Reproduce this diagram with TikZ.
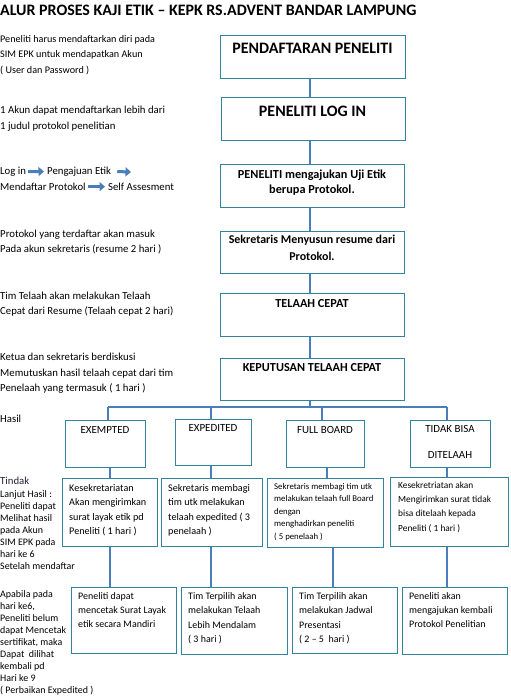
\documentclass[tikz,border=0pt]{standalone}
\usepackage{fontspec}
\setmainfont{Carlito}
\usetikzlibrary{arrows.meta}
\definecolor{boxc}{HTML}{31849B}
\definecolor{linec}{HTML}{4A7EBB}
\definecolor{purp}{HTML}{2E1F3A}
\newcommand\tstrut{\rule{0pt}{0.8em}}
% left-aligned paragraph: name, x, mid-y of first line, size, leading, text
\newcommand\para[6]{\node[anchor=north west, inner sep=0pt, align=left, font=\fontsize{#4}{#5}\selectfont, yshift={#4*0.567pt}] (#1) at (#2,#3) {\tstrut #6};}
% centered text: name, x, mid-y, size, leading, font cmd, text
\newcommand\ctext[7]{\node[anchor=north, inner sep=0pt, align=center, font=#6\fontsize{#4}{#5}\selectfont, yshift={#4*0.567pt}] (#1) at (#2,#3) {\tstrut #7};}
% box: name, x, y (top-left), width, height
\newcommand\bx[5]{\node[box, minimum width=#4bp, minimum height=#5bp] (#1) at (#2,#3) {};}
\begin{document}
\begin{tikzpicture}[x=1bp,y=-1bp,
  box/.style={draw=boxc, line width=1.3bp, inner sep=0pt, anchor=north west},
  conn/.style={draw=linec, line width=1.2bp},
  txt/.style={anchor=mid west, inner sep=0pt, font=\fontsize{10.8}{12}\selectfont},
  blockarrow/.style={draw=linec, line width=3bp, -{Triangle[length=5.5bp,width=9bp]}}]
\useasboundingbox (0,0) rectangle (511,697);

% title
\node[anchor=base west, inner sep=0pt, font=\bfseries\fontsize{16}{18}\selectfont] (title) at (0,15.5) {ALUR PROSES KAJI ETIK – KEPK RS.ADVENT BANDAR LAMPUNG};

% main boxes
\bx{b1}{220}{35}{185}{43}
\bx{b2}{221}{97}{184}{43}
\bx{b3}{220}{164}{184}{43}
\bx{b4}{220}{231}{184}{42}
\bx{b5}{220}{293}{184}{43}
\bx{b6}{220}{358}{184}{42}
\ctext{t1}{312.5}{50}{16}{18}{\bfseries}{PENDAFTARAN PENELITI}
\ctext{t2}{312.5}{113}{16}{18}{\bfseries}{PENELITI LOG IN}
\ctext{t3}{312}{175}{12.3}{16}{\bfseries}{PENELITI mengajukan Uji Etik\\berupa Protokol.}
\ctext{t4}{312}{241}{12}{17}{\bfseries}{Sekretaris Menyusun resume dari\\Protokol.}
\ctext{t5}{312}{304.5}{12.3}{14}{\bfseries}{TELAAH CEPAT}
\ctext{t6}{312}{368.5}{12.3}{14}{\bfseries}{KEPUTUSAN TELAAH CEPAT}

% result boxes
\bx{c1}{65}{420}{80}{47}
\bx{c2}{175}{419}{76}{46}
\bx{c3}{286}{420}{78}{47}
\bx{c4}{410}{420}{80}{47}
\ctext{tc1}{105}{431}{11}{13}{}{EXEMPTED}
\ctext{tc2}{213}{429}{11}{13}{}{EXPEDITED}
\ctext{tc3}{325}{431}{11}{13}{}{FULL BOARD}
\ctext{tc4}{450}{430}{11}{26}{}{TIDAK BISA\\DITELAAH}

% second row
\bx{r1}{62}{478}{95}{68}
\bx{r2}{161}{478}{101}{68}
\bx{r3}{267}{478}{116}{69}
\bx{r4}{390}{477}{118}{69}
\para{tr1}{69}{489}{10.2}{14.3}{Kesekretariatan\\Akan mengirimkan\\surat layak etik pd\\Peneliti ( 1 hari )}
\para{tr2}{168}{489}{10.2}{14.3}{Sekretaris membagi\\tim utk melakukan\\telaah expedited ( 3\\penelaah )}
\para{tr3}{274}{487}{8.8}{12.5}{Sekretaris membagi tim utk\\melakukan telaah full Board\\dengan\\menghadirkan peneliti\\( 5 penelaah )}
\para{tr4}{398}{486}{9.4}{14.3}{Kesekretriatan akan\\Mengirimkan surat tidak\\bisa ditelaah kepada\\Peneliti ( 1 hari )}

% third row
\bx{s1}{71}{587}{105}{66}
\bx{s2}{181}{587}{106}{67}
\bx{s3}{292}{587}{105}{66}
\bx{s4}{402}{587}{105}{67}
\para{ts1}{78}{597}{10}{14}{Peneliti dapat\\mencetak Surat Layak\\etik secara Mandiri}
\para{ts2}{188}{597}{10}{14.5}{Tim Terpilih akan\\melakukan Telaah\\Lebih Mendalam\\( 3 hari )}
\para{ts3}{299}{597}{10}{14.3}{Tim Terpilih akan\\melakukan Jadwal\\Presentasi\\( 2 – 5~ hari )}
\para{ts4}{409}{597}{10}{14}{Peneliti akan\\mengajukan kembali\\Protokol Penelitian}

% left notes
\para{p1}{0}{40}{10.2}{15.3}{Peneliti harus mendaftarkan diri pada\\SIM EPK untuk mendapatkan Akun\\( User dan Password )}
\para{p2}{0}{111}{10.8}{16}{1 Akun dapat mendaftarkan lebih dari\\1 judul protokol penelitian}
\node[txt] (login) at (0,172) {Log in};
\node[txt] (peng) at (47,172) {Pengajuan Etik};
\node[txt] (mend) at (0,188) {Mendaftar Protokol};
\node[txt] (self) at (108,188) {Self Assesment};
\coordinate (aend) at (131,172);
\draw[blockarrow] ([xshift=2bp]login.east) -- ([xshift=-3bp]peng.west);
\draw[blockarrow] ([xshift=6bp]peng.east) -- (aend);
\draw[blockarrow] ([xshift=2bp]mend.east) -- ([xshift=-3bp]self.west);
\para{p4}{0}{235}{10.8}{15}{Protokol yang terdaftar akan masuk\\Pada akun sekretaris (resume 2 hari )}
\para{p5}{0}{297}{10.8}{15}{Tim Telaah akan melakukan Telaah\\Cepat dari Resume (Telaah cepat 2 hari)}
\para{p6}{0}{358}{10.8}{15.5}{Ketua dan sekretaris berdiskusi\\Memutuskan hasil telaah cepat dari tim\\Penelaah yang termasuk ( 1 hari )}
\para{p7}{0}{420}{10.8}{12}{Hasil}
\para{tind}{0}{482}{10.8}{12}{\color{purp}Tindak}
\para{p8}{0}{495}{10}{12.1}{Lanjut Hasil :\\Peneliti dapat\\Melihat hasil\\pada Akun\\SIM EPK pada\\hari ke 6\\Setelah mendaftar}
\para{p9}{0}{595}{10}{12}{Apabila pada\\hari ke6,\\Peneliti belum\\dapat Mencetak\\sertifikat, maka\\Dapat~ dilihat\\kembali pd\\Hari ke 9\\( Perbaikan Expedited )}

% connectors
\coordinate (m) at (310,0);
\draw[conn] (b1.south -| m) -- (b2.north -| m);
\draw[conn] (b2.south -| m) -- (b3.north -| m);
\draw[conn] (b3.south -| m) -- (b4.north -| m);
\draw[conn] (b4.south -| m) -- (b5.north -| m);
\draw[conn] (b5.south -| m) -- (b6.north -| m);
\coordinate (bus) at (310,407);
\coordinate (d1) at (108,407);
\coordinate (d2) at (211,407);
\coordinate (d3) at (322,407);
\coordinate (d4) at (447,407);
\draw[conn] (b6.south -| m) -- (bus);
\draw[conn] (d1) -- (d4);
\draw[conn] (d1) -- (d1 |- c1.north);
\draw[conn] (d2) -- (d2 |- c2.north);
\draw[conn] (d3) -- (d3 |- c3.north);
\draw[conn] (d4) -- (d4 |- c4.north);
\coordinate (k1) at (110,0);
\coordinate (k2) at (211,0);
\coordinate (k3) at (327,0);
\coordinate (k3b) at (333,0);
\coordinate (k4) at (447,0);
\draw[conn] (c1.south -| k1) -- (r1.north -| k1);
\draw[conn] (c2.south -| k2) -- (r2.north -| k2);
\draw[conn] (c3.south -| k3) -- (r3.north -| k3);
\draw[conn] (c4.south -| k4) -- (r4.north -| k4);
\draw[conn] (r1.south -| k1) -- (s1.north -| k1);
\draw[conn] (r2.south -| k2) -- (s2.north -| k2);
\draw[conn] (r3.south -| k3b) -- (s3.north -| k3b);
\draw[conn] (r4.south -| k4) -- (s4.north -| k4);
\end{tikzpicture}
\end{document}
